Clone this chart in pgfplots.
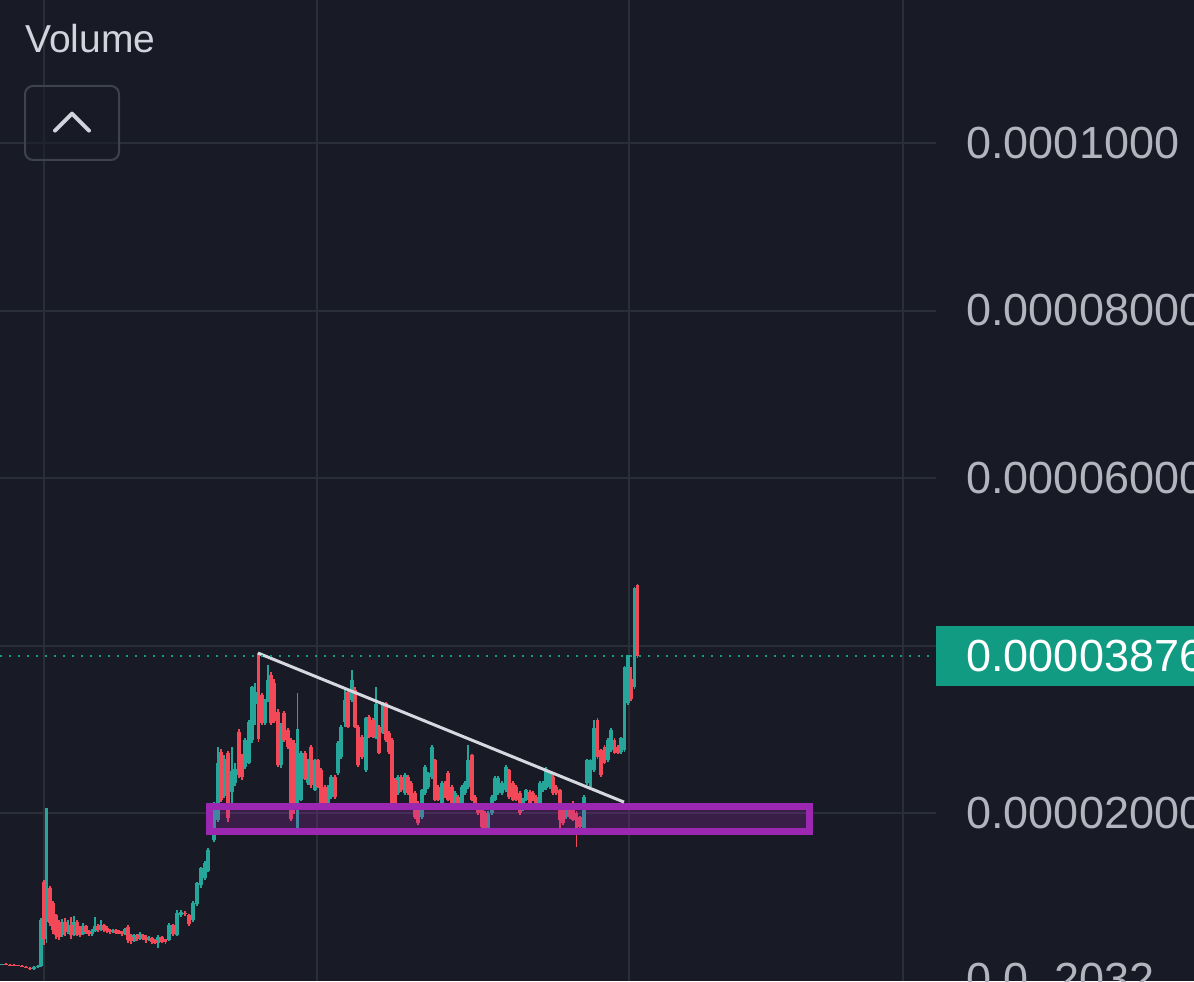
\documentclass[border=0pt]{standalone}
\usepackage{fontspec}
\setmainfont{Liberation Sans}
\usepackage{pgfplots}
\pgfplotsset{compat=1.18}
\usepackage{pgfplotstable}
\definecolor{bg}{RGB}{24,27,38}
\definecolor{gridc}{RGB}{42,46,57}
\definecolor{lab}{RGB}{178,181,190}
\definecolor{vol}{RGB}{209,212,220}
\definecolor{upc}{RGB}{38,166,154}
\definecolor{dnc}{RGB}{242,72,88}
\definecolor{tagc}{RGB}{17,155,131}
\definecolor{purp}{RGB}{156,39,176}
\definecolor{trend}{RGB}{214,216,224}
\definecolor{btn}{RGB}{62,66,78}

\pgfplotstableread{
x o h l c
2 1.9 2.0 1.8 1.95
34 1.4 1.7 1.3 1.6
38 1.6 1.8 1.5 1.7
41 1.7 7.5 1.6 7.2
46.5 7.0 20.6 4.5 20.6
62 5.4 7.3 5.2 6.8
68 5.8 7.2 5.6 6.6
74 5.4 7.7 5.3 7.0
83 5.5 6.9 5.4 6.5
92 5.5 6.2 5.3 5.9
95 5.9 7.6 5.8 6.5
101 6.0 7.2 5.9 6.6
113 5.8 6.2 5.7 6.0
125 5.5 6.3 5.4 6.2
134 4.7 5.6 4.6 5.4
140 4.9 5.8 4.8 5.5
149 4.8 5.3 4.7 5.1
158 4.5 5.4 3.9 5.2
169 4.8 6.9 4.7 6.6
177 5.4 8.4 5.3 8.1
181 7.8 8.4 7.6 8.2
193 7.2 9.5 7.0 9.3
197 9.1 11.8 8.9 11.6
201 11.4 13.6 11.0 13.4
205 12.2 14.3 12.0 14.0
208 13.1 15.8 12.9 15.6
214 16.8 21.3 16.5 21.0
218 19.2 27.9 18.9 26.0
224 22.0 26.9 21.8 26.5
232 22.5 27.9 21.0 25.0
235 23.6 26.0 23.2 25.2
245 25.5 28.9 25.2 28.7
249 26.0 31.1 25.8 30.9
252 28.7 35.2 28.4 35.0
255 33.0 35.5 30.5 34.5
265 30.7 33.6 30.5 33.4
268 33.4 37.7 33.2 35.9
281 25.7 30.7 25.4 30.5
297.5 18.2 34.3 18.0 30.0
301 21.6 27.4 21.4 27.2
308 23.6 26.5 23.4 26.3
315 22.8 26.5 22.6 26.3
328 20.7 23.3 20.5 23.1
331 21.9 24.5 21.7 24.3
338 24.8 28.6 24.5 28.4
341 26.7 30.5 26.5 30.3
345 30.9 34.7 30.3 33.5
352 33.5 37.1 33.3 35.9
366 25.1 31.5 24.9 31.3
376 29.0 35.0 28.8 33.0
383 29.6 33.3 29.4 33.1
398 22.4 24.5 22.2 24.3
405 22.4 24.8 22.2 24.5
422 19.5 22.9 19.3 22.7
425 22.4 25.7 22.2 25.5
428 23.1 24.9 22.9 24.8
432 24.3 28.1 24.1 27.9
442 21.2 23.8 21.0 23.6
455 21.2 22.6 21.0 22.4
462 21.2 23.3 21.0 23.1
465 22.4 23.8 22.2 23.6
468 23.1 28.1 22.9 26.3
488 17.7 20.2 17.5 20.0
492 20.0 22.1 19.8 21.9
495 21.6 24.4 21.4 24.2
498 22.4 24.4 22.2 24.2
502 22.4 23.8 22.2 23.6
506 22.7 25.7 22.5 25.5
523 20.4 21.8 20.2 21.6
526 21.6 22.9 21.4 22.7
540 21.2 23.8 21.0 23.6
543 22.7 23.8 22.5 23.6
546 23.0 25.5 22.8 25.1
550 23.1 25.0 22.9 24.8
566 19.5 20.6 19.3 20.4
584 18.0 22.1 17.8 21.9
587 23.6 26.5 23.4 26.3
590.5 23.1 26.5 22.9 26.3
594 25.1 31.1 24.9 30.1
608 26.3 28.9 26.1 28.7
611 27.5 30.1 27.3 29.9
621 27.3 29.1 27.1 29.0
624.5 27.5 37.6 27.3 37.4
628 33.1 38.9 32.9 38.9
634.5 35.0 47.0 34.8 46.9
}\updata

\pgfplotstableread{
x o h l c
6 1.95 2.05 1.85 1.9
10 1.9 2.0 1.8 1.85
14 1.85 1.95 1.75 1.8
18 1.8 1.9 1.7 1.75
22 1.75 1.85 1.6 1.65
26 1.65 1.75 1.5 1.55
30 1.55 1.65 1.3 1.4
44 11.8 12.0 4.2 5.0
50 11.0 11.3 6.5 6.9
53 9.3 9.5 5.5 6.0
56 7.8 8.0 5.0 5.4
59 7.0 7.2 4.8 5.2
65 7.0 7.5 5.3 5.8
71 6.6 7.6 5.0 5.4
77 7.0 7.2 5.3 5.6
80 5.6 6.5 5.2 5.5
86 6.5 6.6 5.6 5.8
89 5.8 6.0 5.3 5.5
98 6.5 6.7 5.8 6.0
104 6.6 6.7 5.8 6.0
107 6.3 6.5 5.7 5.9
110 5.9 6.1 5.6 5.8
116 6.0 6.2 5.5 5.7
119 5.9 6.0 5.5 5.6
122 5.7 5.9 5.3 5.5
128 6.4 6.6 4.5 4.8
131 5.2 5.5 4.4 4.7
137 5.4 5.5 4.7 5.0
143 5.4 5.6 4.8 5.0
146 5.2 5.4 4.5 4.8
152 5.1 5.2 4.3 4.6
155 4.8 4.9 4.3 4.5
162 5.2 5.3 4.5 4.6
165.5 4.9 5.0 4.4 4.6
173 6.6 6.8 5.3 5.5
185 8.1 8.3 7.7 7.9
189 7.8 8.0 6.5 6.7
221 27.3 27.6 21.3 21.6
228 27.2 27.4 18.9 19.4
239 29.7 30.0 24.2 24.5
242 26.6 27.0 24.0 24.3
258.5 39.1 39.2 28.5 28.8
262 34.1 34.3 30.5 30.7
271 36.5 36.8 30.5 30.7
274 35.5 36.0 30.8 31.0
278 32.1 32.4 25.5 25.7
284 31.9 32.2 28.5 28.7
288 29.9 30.2 27.7 27.9
291 28.7 29.0 19.0 19.3
294 28.4 28.7 19.9 20.3
305 27.2 27.4 23.9 24.1
311 27.9 28.1 23.0 23.3
318 26.3 26.5 23.0 23.1
321 25.1 25.4 21.0 21.2
325 23.1 23.3 20.8 21.0
335 24.3 24.5 21.7 21.9
348 34.4 34.6 30.1 30.3
355 34.7 35.0 30.1 30.3
358 30.3 30.5 25.5 25.7
362 29.1 29.3 26.5 26.7
369 31.5 31.7 28.9 29.1
373 31.1 31.3 28.9 29.1
379 30.3 30.5 27.0 27.2
386 33.1 33.3 28.5 28.7
389 29.5 29.8 27.0 27.3
392 28.7 29.0 20.7 21.0
395 23.9 24.2 20.5 20.7
401 24.3 24.5 22.5 22.7
408 24.3 24.5 22.2 22.4
411 23.6 23.8 20.5 20.7
415 22.4 22.6 19.3 19.5
418 21.2 21.4 18.6 18.8
435 26.3 26.5 21.4 21.6
438 23.1 23.3 21.4 21.6
445 23.6 23.8 21.8 22.0
448 24.8 25.0 21.4 21.6
452 23.1 23.3 21.0 21.2
458 21.9 22.1 20.5 20.7
472 26.9 27.1 21.4 21.6
475 21.9 22.1 20.5 20.7
478 20.7 20.9 19.8 20.0
482 20.7 20.9 18.1 18.3
485 20.0 20.2 17.4 17.6
509 25.1 25.3 21.7 21.9
513 23.6 23.8 21.4 21.6
516 23.1 23.3 21.4 21.6
520 22.4 22.6 19.8 20.0
530 22.5 22.7 21.0 21.2
533 22.4 22.6 21.4 21.6
536 21.9 22.1 20.5 20.7
553 24.3 24.5 22.2 22.4
556 23.1 23.3 22.2 22.4
560 22.7 22.9 17.7 19.2
563 20.4 20.6 18.6 18.8
570 20.7 20.9 19.3 19.5
573 21.2 21.4 19.0 19.2
576.5 20.0 20.2 15.9 18.0
580 19.5 19.7 18.1 18.3
597.5 31.1 31.3 26.5 26.7
601 27.5 27.7 24.3 24.5
604.5 27.9 28.1 25.8 26.0
614.5 28.7 28.9 27.0 27.2
618 27.9 28.1 27.0 27.2
631 36.0 37.4 33.4 33.6
637.5 47.2 47.3 38.5 38.76
}\dndata

\begin{document}
\begin{tikzpicture}
\fill[bg] (0,0) rectangle (597pt,490.5pt);
\begin{scope}
\clip (0,0) rectangle (597pt,490.5pt);
\begin{axis}[
  at={(0,0)}, anchor=south west,
  scale only axis, width=468pt, height=490.5pt,
  xmin=0, xmax=936, ymin=-0.0597, ymax=117.075,
  axis line style={draw=none}, major tick length=0pt,
  xtick={44,317,629,903}, xticklabels={},
  ytick={20,40,60,80,100},
  yticklabels={0.00002000,{},0.00006000,0.00008000,0.0001000},
  yticklabel pos=right,
  yticklabel style={anchor=west, inner sep=0pt, xshift=15pt,
    font=\fontsize{22.5}{27}\selectfont, text=lab},
  grid=major, grid style={line width=1pt, draw=gridc},
  clip=false,
]
% wicks
\addplot[forget plot, draw=upc, line width=0.7pt, mark=none,
  quiver={u=0, v=\thisrow{h}-\thisrow{l}}]
  table[x=x, y=l] {\updata};
\addplot[forget plot, draw=dnc, line width=0.7pt, mark=none,
  quiver={u=0, v=\thisrow{h}-\thisrow{l}}]
  table[x=x, y=l] {\dndata};
% bodies
\addplot[forget plot, draw=upc, line width=1.6pt, mark=none,
  quiver={u=0, v=\thisrow{c}-\thisrow{o}}]
  table[x=x, y=o] {\updata};
\addplot[forget plot, draw=dnc, line width=1.6pt, mark=none,
  quiver={u=0, v=\thisrow{o}-\thisrow{c}}]
  table[x=x, y=c] {\dndata};
% support zone
\addplot[draw=purp, line width=3.5pt, fill=purp, fill opacity=0.25, line join=miter]
  coordinates {(209.5,20.78) (809,20.78) (809,17.79) (209.5,17.79)} -- cycle;
% trend line
\addplot[draw=trend, line width=1.5pt] coordinates {(258,39.1) (624,21.3)};
% last price line
\addplot[draw=tagc, line width=1.2pt, dash pattern=on 1.2pt off 3.3pt]
  coordinates {(0,38.76) (936,38.76)};
\fill[tagc] (axis cs:936,42.33) rectangle (axis cs:1300,35.16);
\node[anchor=west, inner sep=0pt, text=white, font=\fontsize{22.5}{27}\selectfont]
  at (axis cs:966,38.76) {0.00003876};
\node[anchor=north west, inner sep=0pt, text=lab, font=\fontsize{22.5}{27}\selectfont]
  at (axis cs:966,2.09) {0.0\kern3pt\raisebox{-0.4em}{\fontsize{12}{12}\selectfont 5}\kern3pt 2032};
\end{axis}
\node[anchor=base west, inner sep=0pt, text=vol, font=\fontsize{19.5}{23}\selectfont]
  at (12.5pt,464pt) {Volume};
\draw[btn, line width=1pt, rounded corners=4pt, fill=bg, fill opacity=0.5]
  (12.5pt,410.5pt) rectangle (59.5pt,447.5pt);
\draw[vol, line width=2pt, line cap=round, line join=round]
  (27.5pt,425.2pt) -- (36pt,433.7pt) -- (44.5pt,425.2pt);
\end{scope}
\pgfresetboundingbox
\useasboundingbox (0,0) rectangle (597pt,490.5pt);
\end{tikzpicture}
\end{document}
